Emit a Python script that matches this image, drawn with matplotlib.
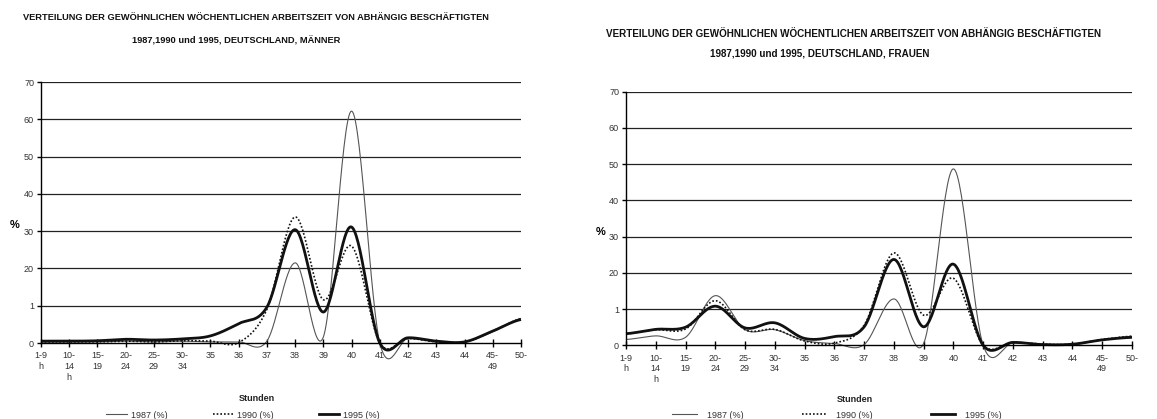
import numpy as np
import matplotlib
matplotlib.use("Agg")
import matplotlib.pyplot as plt
from matplotlib.lines import Line2D

plt.rcParams['font.family'] = ['Liberation Sans', 'DejaVu Sans']

categories = ["1-9\nh", "10-\n14\nh", "15-\n19", "20-\n24", "25-\n29", "30-\n34",
              "35", "36", "37", "38", "39", "40", "41", "42", "43", "44", "45-\n49", "50-"]
y_ticks = [0, 10, 20, 30, 40, 50, 60, 70]
y_ticklabels = ["0", "1", "20", "30", "40", "50", "60", "70"]

men_1987 = [0.3, 0.3, 0.3, 0.5, 0.3, 0.5, 0.3, 0.3, 0.5, 21.5, 1.6, 62.2, 0.0, 1.2, 0.3, 0.2, 3.0, 6.6]
men_1990 = [0.3, 0.3, 0.3, 0.5, 0.3, 0.6, 0.5, 0.1, 9.0, 33.8, 11.6, 26.0, 0.0, 1.2, 0.3, 0.2, 3.2, 6.5]
men_1995 = [0.5, 0.5, 0.6, 1.0, 0.8, 1.1, 1.9, 5.2, 9.6, 30.4, 8.3, 31.1, 0.0, 1.4, 0.5, 0.3, 3.2, 6.3]

women_1987 = [1.6, 2.6, 2.2, 13.7, 4.3, 4.3, 1.3, 0.5, 0.2, 12.8, 0.5, 48.7, 0.0, 0.7, 0.3, 0.2, 1.5, 2.5]
women_1990 = [3.2, 4.3, 4.5, 12.3, 4.3, 4.4, 1.2, 0.6, 5.5, 25.5, 8.3, 18.5, 0.0, 0.8, 0.3, 0.3, 1.6, 2.5]
women_1995 = [3.2, 4.4, 5.0, 10.8, 4.8, 6.2, 1.9, 2.4, 5.1, 23.7, 5.1, 22.4, 0.0, 0.8, 0.2, 0.3, 1.5, 2.2]

series_labels = ["1987 (%)", "1990 (%)", "1995 (%)"]
title_line1 = "VERTEILUNG DER GEWÖHNLICHEN WÖCHENTLICHEN ARBEITSZEIT VON ABHÄNGIG BESCHÄFTIGTEN"
title_line2_men = "1987,1990 und 1995, DEUTSCHLAND, MÄNNER"
title_line2_women = "1987,1990 und 1995, DEUTSCHLAND, FRAUEN"
x_label = "Stunden"


def smooth(y, n=30):
    y = np.asarray(y, float)
    xs, ys = [], []
    N = len(y)
    for i in range(N - 1):
        p0 = y[i - 1] if i > 0 else y[i]
        p3 = y[i + 2] if i + 2 < N else y[i + 1]
        m1 = (y[i + 1] - p0) / 2.0
        m2 = (p3 - y[i]) / 2.0
        t = np.linspace(0, 1, n, endpoint=(i == N - 2))
        h00 = 2 * t**3 - 3 * t**2 + 1
        h10 = t**3 - 2 * t**2 + t
        h01 = -2 * t**3 + 3 * t**2
        h11 = t**3 - t**2
        xs.append(i + t)
        ys.append(h00 * y[i] + h10 * m1 + h01 * y[i + 1] + h11 * m2)
    return np.concatenate(xs), np.concatenate(ys)


W, H = 1157, 419
fig = plt.figure(figsize=(W / 100, H / 100), dpi=100)

styles = [dict(color="#555555", lw=0.8, ls="-"),
          dict(color="#111111", lw=1.2, ls=(0, (1.0, 1.2))),
          dict(color="#111111", lw=2.0, ls="-")]

tick_color = "#333333"


def make_panel(rect, data, legend_center, handlelen, colspacing, textpad):
    ax = fig.add_axes(rect)
    x = np.arange(len(categories))
    for vals, st, lab in zip(data, styles, series_labels):
        xs, ys = smooth(vals)
        ax.plot(xs, ys, clip_on=False, label=lab, solid_capstyle="butt", **st)
    ax.set_xlim(0, len(categories) - 1)
    ax.set_ylim(0, 70)
    ax.set_yticks(y_ticks)
    ax.set_yticklabels(y_ticklabels)
    ax.set_xticks(x)
    ax.set_xticklabels(categories, linespacing=1.25)
    for yv in y_ticks[1:]:
        ax.axhline(yv, color="#222222", lw=0.9, zorder=0)
    for s in ["right", "top"]:
        ax.spines[s].set_visible(False)
    ax.spines["left"].set_linewidth(1.0)
    ax.spines["bottom"].set_linewidth(1.0)
    ax.tick_params(axis="y", direction="out", length=3, width=1, labelsize=6.5,
                   labelcolor=tick_color, pad=2)
    ax.tick_params(axis="x", direction="inout", length=6, width=1, labelsize=6.5,
                   labelcolor=tick_color, pad=3)
    for t in ax.get_xticklabels():
        t.set_verticalalignment("top")
    ax.set_facecolor("none")
    handles = [Line2D([], [], **st) for st in styles]
    ax.legend(handles, series_labels, loc="center", ncol=3, frameon=False,
              fontsize=6.5, handlelength=handlelen, columnspacing=colspacing,
              handletextpad=textpad,
              bbox_to_anchor=(legend_center, 4 / 419), bbox_transform=fig.transFigure,
              labelcolor=tick_color)
    return ax


axL = make_panel([41 / W, 1 - 343 / H, 480 / W, 261 / H],
                 [men_1987, men_1990, men_1995], 243 / W, 2.3, 5.0, 0.4)
axR = make_panel([626 / W, 1 - 345.3 / H, 506 / W, 253.6 / H],
                 [women_1987, women_1990, women_1995], 837 / W, 2.7, 6.45, 1.1)

title_kw = dict(fontweight="bold", ha="center", va="center", color="#111111")
fig.text(256 / W, 1 - 18 / H, title_line1, fontsize=6.7, **title_kw)
fig.text(236 / W, 1 - 41 / H, title_line2_men, fontsize=6.7, **title_kw)
fig.text(853 / W, 1 - 34 / H, title_line1, fontsize=7.15, **title_kw)
fig.text(820 / W, 1 - 54 / H, title_line2_women, fontsize=7.15, **title_kw)

fig.text(15 / W, 1 - 225 / H, "%", fontsize=8, fontweight="bold", ha="center", va="center")
fig.text(601 / W, 1 - 232 / H, "%", fontsize=8, fontweight="bold", ha="center", va="center")

fig.text(257 / W, 1 - 398 / H, x_label, fontsize=6.5, fontweight="bold", ha="center",
         va="center", color="#222222")
fig.text(855 / W, 1 - 399 / H, x_label, fontsize=6.5, fontweight="bold", ha="center",
         va="center", color="#222222")

fig.savefig("out.png", dpi=100)
